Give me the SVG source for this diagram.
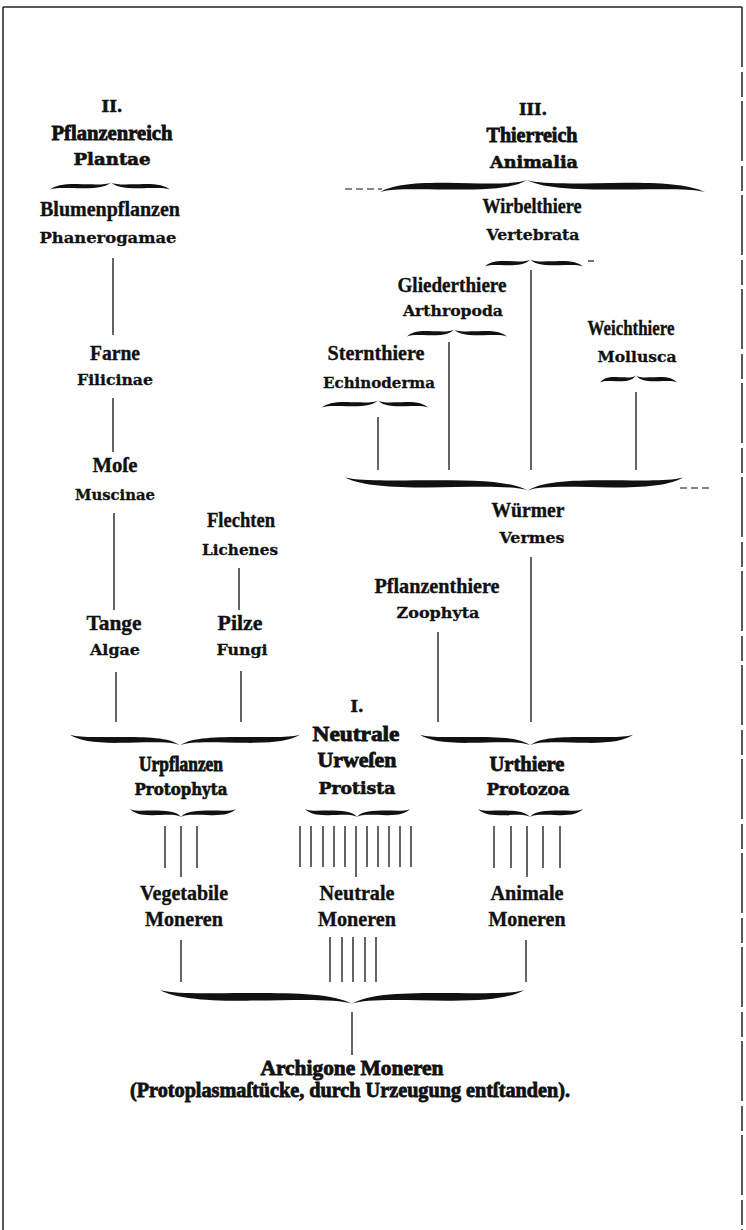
<svg xmlns="http://www.w3.org/2000/svg" xmlns:xlink="http://www.w3.org/1999/xlink" width="746" height="1230" viewBox="0 0 746 1230">
<style>
.fk{font-family:"Liberation Serif","DejaVu Serif",serif;font-weight:bold;font-size:20px;text-anchor:middle;fill:#111;stroke:#111;stroke-width:0.35}
.fh{font-family:"Liberation Serif","DejaVu Serif",serif;font-weight:bold;font-size:21px;text-anchor:middle;fill:#111;stroke:#111;stroke-width:0.8}
.la{font-family:"DejaVu Serif",serif;font-weight:bold;font-size:15.5px;text-anchor:middle;fill:#111;stroke:#111;stroke-width:0.3}
.lh{font-family:"DejaVu Serif",serif;font-weight:bold;font-size:16px;text-anchor:middle;fill:#111;stroke:#111;stroke-width:0.6}
.ln{stroke:#111;stroke-width:1.3;fill:none}
.dl{stroke:#111;stroke-width:1.2;fill:none;stroke-dasharray:7 4}
.br{fill:#111}
.frame{stroke:#222;stroke-width:1.5;fill:none}
</style>
<defs>
<path id="bh" d="M -100,-4 C -90,-1.5 -75,-2.4 -55,-2.4 C -30,-2.4 -10,-2.2 0,4 C -8,0.8 -30,1.8 -55,2.2 C -78,2.4 -92,0.5 -100,-4 Z"/>
</defs>
<rect width="746" height="1230" fill="#fff"/>
<g id="frame">
<line class="frame" x1="3" y1="7" x2="742" y2="7"/>
<line class="frame" x1="3" y1="7" x2="3" y2="1230"/>
<line class="frame" x1="742" y1="7" x2="742" y2="1230" stroke-dasharray="60 5 25 4"/>
</g>
<g id="braces" class="br">
<use xlink:href="#bh" transform="translate(111,186) scale(0.61,-0.9)"/>
<use xlink:href="#bh" transform="translate(111,186) scale(-0.59,-0.9)"/>
<use xlink:href="#bh" transform="translate(527,186) scale(1.47,-1.5)"/>
<use xlink:href="#bh" transform="translate(527,186) scale(-1.78,-1.5)"/>
<use xlink:href="#bh" transform="translate(530,263) scale(0.45,-0.9)"/>
<use xlink:href="#bh" transform="translate(530,263) scale(-0.53,-0.9)"/>
<use xlink:href="#bh" transform="translate(454,333) scale(0.47,-0.9)"/>
<use xlink:href="#bh" transform="translate(454,333) scale(-0.53,-0.9)"/>
<use xlink:href="#bh" transform="translate(378,404) scale(0.56,-0.9)"/>
<use xlink:href="#bh" transform="translate(378,404) scale(-0.50,-0.9)"/>
<use xlink:href="#bh" transform="translate(636,379) scale(0.36,-0.9)"/>
<use xlink:href="#bh" transform="translate(636,379) scale(-0.41,-0.9)"/>
<use xlink:href="#bh" transform="translate(528,484) scale(1.83,1.6)"/>
<use xlink:href="#bh" transform="translate(528,484) scale(-1.55,1.6)"/>
<use xlink:href="#bh" transform="translate(180,740) scale(1.10,1.3)"/>
<use xlink:href="#bh" transform="translate(180,740) scale(-1.20,1.3)"/>
<use xlink:href="#bh" transform="translate(530,740) scale(1.10,1.3)"/>
<use xlink:href="#bh" transform="translate(530,740) scale(-1.03,1.3)"/>
<use xlink:href="#bh" transform="translate(181,813) scale(0.51,1)"/>
<use xlink:href="#bh" transform="translate(181,813) scale(-0.55,1)"/>
<use xlink:href="#bh" transform="translate(357,813) scale(0.52,1)"/>
<use xlink:href="#bh" transform="translate(357,813) scale(-0.53,1)"/>
<use xlink:href="#bh" transform="translate(530,813) scale(0.52,1)"/>
<use xlink:href="#bh" transform="translate(530,813) scale(-0.53,1)"/>
<use xlink:href="#bh" transform="translate(352,997) scale(1.92,1.7)"/>
<use xlink:href="#bh" transform="translate(352,997) scale(-1.72,1.7)"/>
</g>
<g id="connectors">
<line class="dl" x1="345" y1="189" x2="382" y2="189"/>
<line class="dl" x1="588" y1="261" x2="594" y2="261"/>
<line class="dl" x1="680" y1="488" x2="712" y2="488"/>
<line class="ln" x1="113" y1="258" x2="113" y2="335"/>
<line class="ln" x1="113" y1="398" x2="113" y2="452"/>
<line class="ln" x1="114" y1="513" x2="114" y2="610"/>
<line class="ln" x1="239" y1="568" x2="239" y2="610"/>
<line class="ln" x1="116" y1="672" x2="116" y2="722"/>
<line class="ln" x1="241" y1="671" x2="241" y2="722"/>
<line class="ln" x1="531" y1="270" x2="531" y2="470"/>
<line class="ln" x1="449" y1="342" x2="449" y2="470"/>
<line class="ln" x1="378" y1="417" x2="378" y2="470"/>
<line class="ln" x1="636" y1="392" x2="636" y2="470"/>
<line class="ln" x1="531" y1="557" x2="531" y2="722"/>
<line class="ln" x1="438" y1="632" x2="438" y2="722"/>
<line class="ln" x1="165" y1="826" x2="165" y2="868"/>
<line class="ln" x1="181" y1="826" x2="181" y2="877"/>
<line class="ln" x1="197" y1="826" x2="197" y2="868"/>
<line class="ln" x1="300" y1="826" x2="300" y2="867"/>
<line class="ln" x1="311" y1="826" x2="311" y2="867"/>
<line class="ln" x1="323" y1="826" x2="323" y2="867"/>
<line class="ln" x1="334" y1="826" x2="334" y2="867"/>
<line class="ln" x1="345" y1="826" x2="345" y2="867"/>
<line class="ln" x1="356" y1="826" x2="356" y2="877"/>
<line class="ln" x1="367" y1="826" x2="367" y2="867"/>
<line class="ln" x1="378" y1="826" x2="378" y2="867"/>
<line class="ln" x1="389" y1="826" x2="389" y2="867"/>
<line class="ln" x1="400" y1="826" x2="400" y2="867"/>
<line class="ln" x1="411" y1="826" x2="411" y2="867"/>
<line class="ln" x1="494" y1="826" x2="494" y2="868"/>
<line class="ln" x1="511" y1="826" x2="511" y2="868"/>
<line class="ln" x1="527" y1="826" x2="527" y2="877"/>
<line class="ln" x1="543" y1="826" x2="543" y2="868"/>
<line class="ln" x1="560" y1="826" x2="560" y2="868"/>
<line class="ln" x1="181" y1="940" x2="181" y2="982"/>
<line class="ln" x1="330" y1="937" x2="330" y2="982"/>
<line class="ln" x1="342" y1="937" x2="342" y2="982"/>
<line class="ln" x1="353" y1="937" x2="353" y2="982"/>
<line class="ln" x1="365" y1="937" x2="365" y2="982"/>
<line class="ln" x1="376" y1="937" x2="376" y2="982"/>
<line class="ln" x1="526" y1="940" x2="526" y2="982"/>
<line class="ln" x1="352" y1="1012" x2="352" y2="1055"/>
</g>
<g id="n-plantae">
<text class="lh" x="112" y="112" textLength="21" lengthAdjust="spacingAndGlyphs">II.</text>
<text class="fh" x="112" y="140" textLength="121" lengthAdjust="spacingAndGlyphs">Pflanzenreich</text>
<text class="lh" x="112" y="165" textLength="77" lengthAdjust="spacingAndGlyphs">Plantae</text>
</g>
<g id="n-phanerogamae">
<text class="fk" x="110" y="216" textLength="140" lengthAdjust="spacingAndGlyphs">Blumenpflanzen</text>
<text class="la" x="108" y="243" textLength="137" lengthAdjust="spacingAndGlyphs">Phanerogamae</text>
</g>
<g id="n-filicinae">
<text class="fk" x="115" y="360" textLength="50" lengthAdjust="spacingAndGlyphs">Farne</text>
<text class="la" x="115" y="385" textLength="76" lengthAdjust="spacingAndGlyphs">Filicinae</text>
</g>
<g id="n-muscinae">
<text class="fk" x="115" y="472" textLength="45" lengthAdjust="spacingAndGlyphs">Moſe</text>
<text class="la" x="115" y="500" textLength="80" lengthAdjust="spacingAndGlyphs">Muscinae</text>
</g>
<g id="n-lichenes">
<text class="fk" x="241" y="527" textLength="68" lengthAdjust="spacingAndGlyphs">Flechten</text>
<text class="la" x="240" y="555" textLength="76" lengthAdjust="spacingAndGlyphs">Lichenes</text>
</g>
<g id="n-algae">
<text class="fk" x="114" y="630" textLength="55" lengthAdjust="spacingAndGlyphs">Tange</text>
<text class="la" x="115" y="655" textLength="50" lengthAdjust="spacingAndGlyphs">Algae</text>
</g>
<g id="n-fungi">
<text class="fk" x="240" y="630" textLength="45" lengthAdjust="spacingAndGlyphs">Pilze</text>
<text class="la" x="242" y="655" textLength="51" lengthAdjust="spacingAndGlyphs">Fungi</text>
</g>
<g id="n-animalia">
<text class="lh" x="533" y="115" textLength="28" lengthAdjust="spacingAndGlyphs">III.</text>
<text class="fh" x="532" y="142" textLength="91" lengthAdjust="spacingAndGlyphs">Thierreich</text>
<text class="lh" x="534" y="168" textLength="88" lengthAdjust="spacingAndGlyphs">Animalia</text>
</g>
<g id="n-vertebrata">
<text class="fk" x="532" y="213" textLength="99" lengthAdjust="spacingAndGlyphs">Wirbelthiere</text>
<text class="la" x="533" y="240" textLength="93" lengthAdjust="spacingAndGlyphs">Vertebrata</text>
</g>
<g id="n-arthropoda">
<text class="fk" x="452" y="292" textLength="109" lengthAdjust="spacingAndGlyphs">Gliederthiere</text>
<text class="la" x="453" y="316" textLength="100" lengthAdjust="spacingAndGlyphs">Arthropoda</text>
</g>
<g id="n-echinoderma">
<text class="fk" x="376" y="360" textLength="97" lengthAdjust="spacingAndGlyphs">Sternthiere</text>
<text class="la" x="379" y="388" textLength="112" lengthAdjust="spacingAndGlyphs">Echinoderma</text>
</g>
<g id="n-mollusca">
<text class="fk" x="631" y="335" textLength="87" lengthAdjust="spacingAndGlyphs">Weichthiere</text>
<text class="la" x="637" y="362" textLength="79" lengthAdjust="spacingAndGlyphs">Mollusca</text>
</g>
<g id="n-vermes">
<text class="fk" x="528" y="517" textLength="73" lengthAdjust="spacingAndGlyphs">Würmer</text>
<text class="la" x="532" y="543" textLength="65" lengthAdjust="spacingAndGlyphs">Vermes</text>
</g>
<g id="n-zoophyta">
<text class="fk" x="437" y="593" textLength="125" lengthAdjust="spacingAndGlyphs">Pflanzenthiere</text>
<text class="la" x="438" y="618" textLength="83" lengthAdjust="spacingAndGlyphs">Zoophyta</text>
</g>
<g id="n-protista">
<text class="lh" x="357" y="712" textLength="13" lengthAdjust="spacingAndGlyphs">I.</text>
<text class="fh" x="356" y="741" textLength="87" lengthAdjust="spacingAndGlyphs">Neutrale</text>
<text class="fh" x="357" y="767" textLength="79" lengthAdjust="spacingAndGlyphs">Urweſen</text>
<text class="lh" x="357" y="794" textLength="77" lengthAdjust="spacingAndGlyphs">Protista</text>
</g>
<g id="n-protophyta">
<text class="fh" x="181" y="771" textLength="84" lengthAdjust="spacingAndGlyphs">Urpflanzen</text>
<text class="lh" x="181" y="795" textLength="93" lengthAdjust="spacingAndGlyphs">Protophyta</text>
</g>
<g id="n-protozoa">
<text class="fh" x="527" y="771" textLength="75" lengthAdjust="spacingAndGlyphs">Urthiere</text>
<text class="lh" x="528" y="795" textLength="83" lengthAdjust="spacingAndGlyphs">Protozoa</text>
</g>
<g id="n-veg-moneren">
<text class="fk" x="184" y="900" textLength="88" lengthAdjust="spacingAndGlyphs">Vegetabile</text>
<text class="fk" x="184" y="926" textLength="78" lengthAdjust="spacingAndGlyphs">Moneren</text>
</g>
<g id="n-neu-moneren">
<text class="fk" x="357" y="900" textLength="75" lengthAdjust="spacingAndGlyphs">Neutrale</text>
<text class="fk" x="357" y="926" textLength="78" lengthAdjust="spacingAndGlyphs">Moneren</text>
</g>
<g id="n-ani-moneren">
<text class="fk" x="527" y="900" textLength="73" lengthAdjust="spacingAndGlyphs">Animale</text>
<text class="fk" x="527" y="926" textLength="77" lengthAdjust="spacingAndGlyphs">Moneren</text>
</g>
<g id="n-archigone">
<text class="fh" x="352" y="1075" textLength="183" lengthAdjust="spacingAndGlyphs">Archigone Moneren</text>
<text class="fh" x="350" y="1097" font-size="19" textLength="440" lengthAdjust="spacingAndGlyphs">(Protoplasmaſtücke, durch Urzeugung entſtanden).</text>
</g>
</svg>
